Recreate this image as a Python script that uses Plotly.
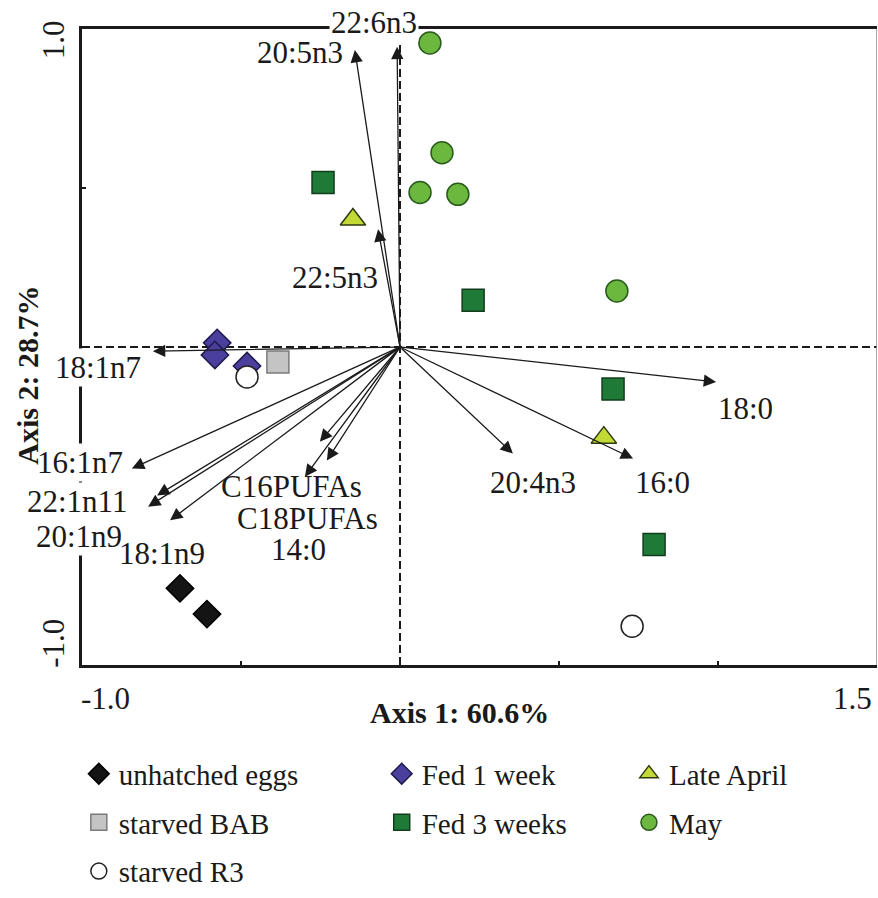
import plotly.graph_objects as go

# ---- sample scores on the two ordination axes ----
unhatched_x = [-0.692, -0.607]
unhatched_y = [-0.759, -0.840]
fed1_x = [-0.575, -0.582, -0.481]
fed1_y = [0.013, -0.025, -0.060]
bab_x = [-0.384]
bab_y = [-0.047]
r3_x = [0.730, -0.481]
r3_y = [-0.878, -0.094]
fed3_x = [-0.242, 0.230, 0.670, 0.799]
fed3_y = [0.517, 0.147, -0.132, -0.621]
april_x = [-0.148, 0.641]
april_y = [0.401, -0.285]
may_x = [0.094, 0.132, 0.063, 0.182, 0.682]
may_y = [0.956, 0.611, 0.486, 0.480, 0.176]

# ---- fatty acid loadings (vector tips) ----
fa_names = ["22:6n3", "20:5n3", "22:5n3", "18:1n7", "16:1n7", "22:1n11", "20:1n9",
            "18:1n9", "C16PUFAs", "C18PUFAs", "14:0", "20:4n3", "16:0", "18:0"]
fa_x = [-0.009, -0.142, -0.069, -0.777, -0.843, -0.764, -0.792,
        -0.723, -0.299, -0.230, -0.252, 0.355, 0.733, 0.994]
fa_y = [0.944, 0.934, 0.370, -0.013, -0.382, -0.467, -0.502,
        -0.545, -0.408, -0.357, -0.298, -0.335, -0.351, -0.110]

# where each vector's name is written (axis units)
label_pos = {
    "22:6n3": (-0.082, 1.019), "20:5n3": (-0.314, 0.925), "22:5n3": (-0.204, 0.219),
    "18:1n7": (-0.950, -0.063), "16:1n7": (-1.006, -0.362), "22:1n11": (-1.016, -0.485),
    "20:1n9": (-1.009, -0.596), "18:1n9": (-0.748, -0.648), "C16PUFAs": (-0.340, -0.440),
    "C18PUFAs": (-0.292, -0.540), "14:0": (-0.318, -0.638), "20:4n3": (0.418, -0.426),
    "16:0": (0.824, -0.426), "18:0": (1.088, -0.194),
}
# names that sit on the frame get a white box so the axis line is hidden behind them
boxed = {"22:6n3", "18:1n7", "16:1n7", "22:1n11", "20:1n9"}

X_RANGE = [-1.0, 1.5]
Y_RANGE = [-1.0, 1.0]

def to_paper(x, y):
    return ((x - X_RANGE[0]) / (X_RANGE[1] - X_RANGE[0]),
            (y - Y_RANGE[0]) / (Y_RANGE[1] - Y_RANGE[0]))

FONT = "Liberation Serif"
FS = 31
INK = "#1a1a1a"

fig = go.Figure()

def add_group(name, xs, ys, symbol, fill, edge, size, legend):
    fig.add_trace(go.Scatter(
        x=xs, y=ys, mode="markers", name=name, legend=legend, legendgroup=name,
        marker=dict(symbol=symbol, size=size, color=fill, line=dict(color=edge, width=1.5)),
    ))

add_group("unhatched eggs", unhatched_x, unhatched_y, "diamond", "#141414", "#000000", 21, "legend")
add_group("Fed 1 week", fed1_x, fed1_y, "diamond", "#4a3f9c", "#1e1a4a", 21, "legend2")
add_group("starved BAB", bab_x, bab_y, "square", "#c4c4c4", "#7a7a7a", 22, "legend")
add_group("starved R3", r3_x, r3_y, "circle", "#ffffff", "#222222", 22, "legend")
add_group("Fed 3 weeks", fed3_x, fed3_y, "square", "#1f7a38", "#123d1c", 22, "legend2")
add_group("Late April", april_x, april_y, "triangle-up", "#c3d936", "#2c3a10", 22, "legend3")
add_group("May", may_x, may_y, "circle", "#6cb83e", "#2a5a1c", 22, "legend3")

annotations = []
# loading vectors drawn as arrows from the origin
for nm, vx, vy in zip(fa_names, fa_x, fa_y):
    annotations.append(dict(
        x=vx, y=vy, ax=0, ay=0, xref="x", yref="y", axref="x", ayref="y",
        text="", showarrow=True, arrowhead=2, arrowsize=1.9, arrowwidth=1.3,
        arrowcolor=INK, standoff=0, startstandoff=0,
    ))
# vector names (paper-referenced so the ones on the frame are not dropped)
for nm in fa_names:
    px, py = to_paper(*label_pos[nm])
    annotations.append(dict(
        x=px, y=py, xref="paper", yref="paper", text=nm, showarrow=False,
        xanchor="center", yanchor="middle",
        font=dict(family=FONT, size=FS, color=INK),
        bgcolor="#ffffff" if nm in boxed else "rgba(0,0,0,0)", borderpad=1,
    ))

# end tick labels and axis titles
tick_font = dict(family=FONT, size=FS, color=INK)
title_font = dict(family=FONT, size=30, color=INK)
annotations += [
    dict(x=-0.036, y=0.983, xref="paper", yref="paper", text="1.0", textangle=-90,
         showarrow=False, font=tick_font, xanchor="center", yanchor="middle"),
    dict(x=-0.036, y=0.034, xref="paper", yref="paper", text="-1.0", textangle=-90,
         showarrow=False, font=tick_font, xanchor="center", yanchor="middle"),
    dict(x=0.030, y=-0.052, xref="paper", yref="paper", text="-1.0",
         showarrow=False, font=tick_font, xanchor="center", yanchor="middle"),
    dict(x=0.969, y=-0.052, xref="paper", yref="paper", text="1.5",
         showarrow=False, font=tick_font, xanchor="center", yanchor="middle"),
    dict(x=0.475, y=-0.074, xref="paper", yref="paper", text="<b>Axis 1: 60.6%</b>",
         showarrow=False, font=title_font, xanchor="center", yanchor="middle"),
    dict(x=-0.069, y=0.455, xref="paper", yref="paper", text="<b>Axis 2: 28.7%</b>",
         textangle=-90, showarrow=False, font=title_font,
         xanchor="center", yanchor="middle"),
]

shapes = [
    # dashed origin cross
    dict(type="line", xref="x", yref="y", x0=X_RANGE[0], x1=X_RANGE[1], y0=0, y1=0,
         line=dict(color=INK, width=2, dash="8px,4px"), layer="below"),
    dict(type="line", xref="x", yref="y", x0=0, x1=0, y0=Y_RANGE[0], y1=Y_RANGE[1],
         line=dict(color=INK, width=2, dash="8px,4px"), layer="below"),
    # light right-hand border of the frame
    dict(type="line", xref="x", yref="y", x0=X_RANGE[1], x1=X_RANGE[1],
         y0=Y_RANGE[0], y1=Y_RANGE[1],
         line=dict(color="#8a8a8a", width=1.5), layer="above"),
]

legend_common = dict(
    font=dict(family=FONT, size=29, color=INK), bgcolor="rgba(0,0,0,0)",
    xanchor="left", yanchor="top", orientation="v", traceorder="grouped",
    tracegroupgap=8, itemsizing="trace",
)

fig.update_layout(
    width=878, height=898,
    margin=dict(l=82, r=1, t=29, b=231),
    paper_bgcolor="#ffffff", plot_bgcolor="#ffffff",
    showlegend=True,
    legend=dict(x=-0.004, y=-0.131, **legend_common),
    legend2=dict(x=0.377, y=-0.131, **legend_common),
    legend3=dict(x=0.688, y=-0.131, **legend_common),
    xaxis=dict(range=X_RANGE, showgrid=False, zeroline=False, showline=True,
               linecolor=INK, linewidth=2.5, mirror=True,
               tickvals=[-1.0, -0.5, 0, 0.5, 1.0, 1.5], ticks="inside", ticklen=4,
               tickwidth=2, tickcolor=INK, showticklabels=False),
    yaxis=dict(range=Y_RANGE, showgrid=False, zeroline=False, showline=True,
               linecolor=INK, linewidth=2.5,
               tickvals=[-1.0, -0.5, 0, 0.5, 1.0], ticks="inside", ticklen=4,
               tickwidth=2, tickcolor=INK, showticklabels=False),
    annotations=annotations,
    shapes=shapes,
)

fig.write_html("out.html")
